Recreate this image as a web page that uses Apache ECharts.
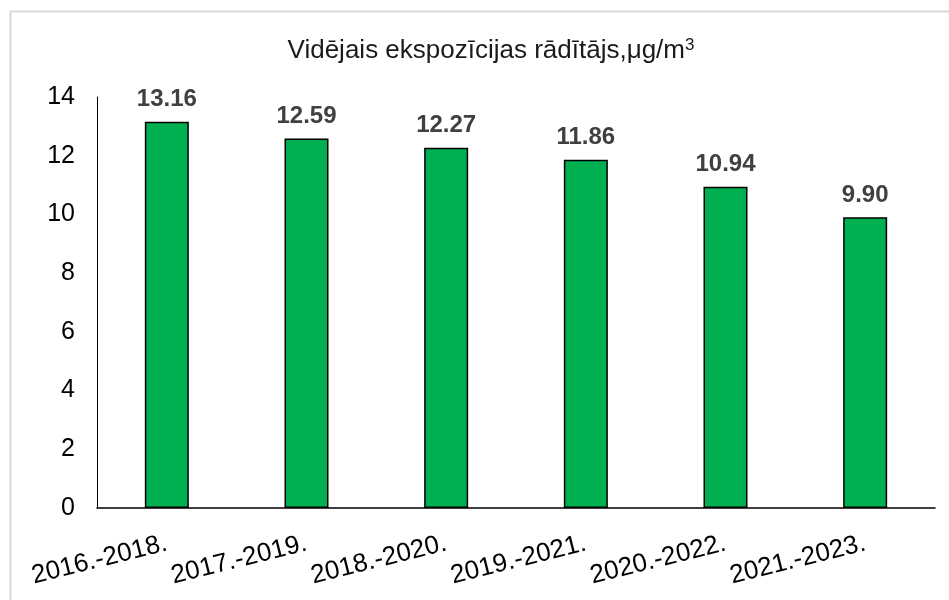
<!DOCTYPE html>
<html>
<head>
<meta charset="utf-8">
<script src="https://cdn.jsdelivr.net/npm/echarts@6/dist/echarts.min.js"></script>
<style>
  html, body { margin: 0; padding: 0; background: #fff; }
  #main { width: 949px; height: 600px; }
</style>
</head>
<body>
<div id="main"></div>
<script>
// periodi un vērtības
var periods = ['2016.-2018.', '2017.-2019.', '2018.-2020.', '2019.-2021.', '2020.-2022.', '2021.-2023.']
var values = [13.16, 12.59, 12.27, 11.86, 10.94, 9.90]
var yTicks = [0, 2, 4, 6, 8, 10, 12, 14]

var chart = echarts.init(document.getElementById('main'))

var option = {
  backgroundColor: '#fff',
  animation: false,
  graphic: [{
    type: 'rect',
    left: 8,
    top: 9,
    shape: { width: 980, height: 640 },
    style: { fill: 'none', stroke: '#d9d9d9', lineWidth: 2 },
    silent: true
  }],
  title: {
    text: 'Vidējais ekspozīcijas rādītājs,μg/m{sup|3}',
    left: 486,
    top: 32,
    textAlign: 'center',
    textStyle: {
      fontFamily: 'Liberation Sans, Arial',
      fontSize: 26,
      fontWeight: 'normal',
      color: '#1a1a1a',
      rich: {
        sup: {
          fontFamily: 'Liberation Sans, Arial',
          fontSize: 17,
          color: '#1a1a1a',
          verticalAlign: 'top',
          padding: [0, 0, 10, 0]
        }
      }
    }
  },
  grid: {
    left: 97,
    right: 14,
    top: 97,
    bottom: 92
  },
  xAxis: {
    type: 'category',
    data: periods,
    axisLine: { lineStyle: { color: '#000', width: 1.5 } },
    axisTick: { show: false },
    axisLabel: {
      interval: 0,
      hideOverlap: false,
      rotate: 14,
      margin: 35,
      fontFamily: 'Liberation Sans, Arial',
      fontSize: 26,
      color: '#000'
    }
  },
  yAxis: {
    type: 'value',
    min: yTicks[0],
    max: yTicks[yTicks.length - 1],
    interval: 2,
    axisLine: { show: true, lineStyle: { color: '#000', width: 1 } },
    axisTick: { show: false },
    splitLine: { show: false },
    axisLabel: {
      margin: 22,
      fontFamily: 'Liberation Sans, Arial',
      fontSize: 25,
      color: '#000'
    }
  },
  series: [{
    type: 'bar',
    data: values,
    barWidth: 44,
    itemStyle: {
      color: '#00b050',
      borderColor: '#000',
      borderWidth: 1.5
    },
    label: {
      show: true,
      position: 'top',
      distance: 10,
      formatter: function (p) { return p.value.toFixed(2) },
      fontFamily: 'Liberation Sans, Arial',
      fontSize: 24,
      fontWeight: 'bold',
      color: '#404040'
    }
  }]
}

chart.setOption(option)
</script>
</body>
</html>
